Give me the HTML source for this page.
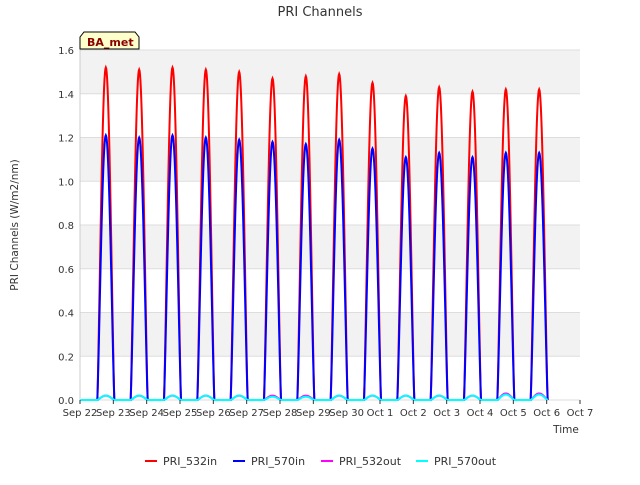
<!DOCTYPE html>
<html><head><style>
body{margin:0;background:#fff;font-family:"Liberation Sans","DejaVu Sans",sans-serif;}
svg text{font-family:"DejaVu Sans","Liberation Sans",sans-serif;}
</style></head><body>
<svg id="c" width="640" height="480" xmlns="http://www.w3.org/2000/svg">
<rect width="640" height="480" fill="#fff"/>
<g id="bands"></g>
<g id="grid"></g>
<g id="series"></g>
<g id="axes"></g>
<text x="320" y="16" text-anchor="middle" font-size="13" fill="#333">PRI Channels</text>
<text transform="translate(18,225) rotate(-90)" text-anchor="middle" font-size="10.5" fill="#333">PRI Channels (W/m2/nm)</text>
<text x="566" y="433" text-anchor="middle" font-size="10.5" fill="#333">Time</text>
<g>
<path d="M80,49 L80,37 L84,32 L135,32 L139,37 L139,49 Z" fill="#ffffcc" stroke="#000" stroke-width="1"/>
<text x="87" y="46" font-size="11" font-weight="bold" fill="#8b0000">BA_met</text>
</g>
<g id="legend"></g>
</svg>
<script>
const dayLabels=["Sep 22","Sep 23","Sep 24","Sep 25","Sep 26","Sep 27","Sep 28","Sep 29","Sep 30","Oct 1","Oct 2","Oct 3","Oct 4","Oct 5","Oct 6","Oct 7"];
const yTicks=[0,0.2,0.4,0.6,0.8,1.0,1.2,1.4,1.6];
const peak532in=[1.52,1.51,1.52,1.51,1.50,1.47,1.48,1.49,1.45,1.39,1.43,1.41,1.42,1.42];
const peak570in=[1.21,1.20,1.21,1.20,1.19,1.18,1.17,1.19,1.15,1.11,1.13,1.11,1.13,1.13];
const peak532out=[0.02,0.02,0.02,0.02,0.02,0.02,0.02,0.02,0.02,0.02,0.02,0.02,0.03,0.03];
const peak570out=[0.02,0.02,0.02,0.02,0.02,0.015,0.015,0.02,0.02,0.02,0.02,0.02,0.025,0.025];
const X0=80,X1=580,Y0=400,Y1=50;
const xs=d=>X0+(X1-X0)*d/15;
const ys=v=>Y0-(Y0-Y1)*v/1.6;
const NS="http://www.w3.org/2000/svg";
function mk(t,a,p){const e=document.createElementNS(NS,t);for(const k in a)e.setAttribute(k,a[k]);p.appendChild(e);return e;}
const bands=document.getElementById('bands'),grid=document.getElementById('grid'),axes=document.getElementById('axes');
mk('rect',{x:X0,y:Y1,width:X1-X0,height:Y0-Y1,fill:'#ffffff'},bands);
for(let i=1;i<8;i+=2){const r=mk('rect',{x:X0,y:ys(yTicks[i+1]),width:X1-X0,height:ys(yTicks[i])-ys(yTicks[i+1]),fill:'#f2f2f2'},bands);
}
yTicks.forEach(v=>{mk('line',{x1:X0,x2:X1,y1:ys(v),y2:ys(v),stroke:'#dddddd'},grid);
const t=mk('text',{x:X0-6,y:ys(v)+4,'text-anchor':'end','font-size':10,fill:'#333'},axes);t.textContent=v.toFixed(1);
});
dayLabels.forEach((l,i)=>{mk('line',{x1:xs(i),x2:xs(i),y1:Y0,y2:Y0+4,stroke:'#333'},axes);
const t=mk('text',{x:xs(i),y:Y0+16,'text-anchor':'middle','font-size':10,fill:'#333'},axes);t.textContent=l;
});
mk('line',{x1:X0,x2:X0,y1:Y1,y2:Y0,stroke:'#ccc'},axes);
const ser=document.getElementById('series');
function draw(peaks,color,name,w){
 let d='M'+xs(0)+','+ys(0);
 peaks.forEach((p,i)=>{const s=i+0.52,e=i+1.03;
  d+=' L'+xs(s).toFixed(2)+','+ys(0);
  for(let k=0;k<=40;k++){const f=k/40;const v=p*Math.pow(Math.sin(Math.PI*f),1.2);d+=' L'+xs(s+(e-s)*f).toFixed(2)+','+ys(v).toFixed(2);}
 });
 const pa=mk('path',{d:d,fill:'none',stroke:color,'stroke-width':w},ser);
 
}
draw(peak532in,'#ff0000','series-pri-532in',2);
draw(peak570in,'#0000ff','series-pri-570in',2);
draw(peak532out,'#ff00ff','series-pri-532out',2);
draw(peak570out,'#00ffff','series-pri-570out',2);
const leg=document.getElementById('legend');
[["PRI_532in","#ff0000",145],["PRI_570in","#0000ff",233],["PRI_532out","#ff00ff",321],["PRI_570out","#00ffff",416]].forEach(([n,c,x])=>{
 const g=mk('g',{},leg);
 mk('line',{x1:x,x2:x+12,y1:461,y2:461,stroke:c,'stroke-width':2},g);
 const t=mk('text',{x:x+18,y:465,'font-size':11,fill:'#333'},g);t.textContent=n;});
</script>
</body></html>
